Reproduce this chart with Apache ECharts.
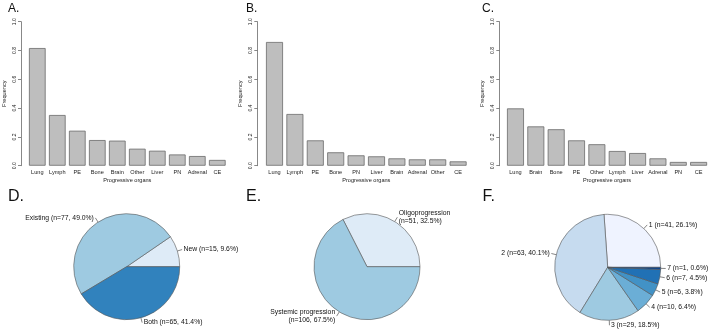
<!DOCTYPE html>
<html>
<head>
<meta charset="utf-8">
<script src="https://cdn.jsdelivr.net/npm/echarts@6/dist/echarts.min.js"></script>
<style>
  html, body { margin: 0; padding: 0; background: #fff; }
  #chart { width: 709px; height: 330px; }
</style>
</head>
<body>
<div id="chart"></div>
<script>
// bar panels: frequency of progressive organs
const organsA = ["Lung", "Lymph", "PE", "Bone", "Brain", "Other", "Liver", "PN", "Adrenal", "CE"];
const freqA = [0.817, 0.352, 0.243, 0.178, 0.174, 0.118, 0.104, 0.078, 0.067, 0.04];
const organsB = ["Lung", "Lymph", "PE", "Bone", "PN", "Liver", "Brain", "Adrenal", "Other", "CE"];
const freqB = [0.859, 0.359, 0.176, 0.093, 0.072, 0.065, 0.051, 0.044, 0.044, 0.03];
const organsC = ["Lung", "Brain", "Bone", "PE", "Other", "Lymph", "Liver", "Adrenal", "PN", "CE"];
const freqC = [0.398, 0.273, 0.253, 0.176, 0.149, 0.102, 0.088, 0.051, 0.026, 0.026];

// pie panels
const namesD = ["New", "Existing", "Both"];
const countsD = [15, 77, 65];
const namesE = ["Oligoprogression\n", "Systemic progression\n"];
const countsE = [51, 106];
const namesF = ["1 ", "2 ", "3 ", "4 ", "5 ", "6 ", "7 "];
const countsF = [41, 63, 29, 10, 6, 7, 1];

const colorsD = ["#deebf7", "#9ecae1", "#3182bd"];
const colorsE = ["#deebf7", "#9ecae1"];
const colorsF = ["#eff3ff", "#c6dbef", "#9ecae1", "#6baed6", "#4292c6", "#2171b5", "#084594"];

const FONT = "Liberation Sans";
const grids = [
  { left: 23.3, top: 21.7, width: 204, height: 144 },
  { left: 264.3, top: 21.7, width: 204, height: 144 },
  { left: 505.3, top: 21.7, width: 203.5, height: 144 },
];
const yOffsets = [6.3, 7, 6];
const barSets = [
  [organsA, freqA],
  [organsB, freqB],
  [organsC, freqC],
];

function pieData(names, counts, colors) {
  const total = counts.reduce((a, b) => a + b, 0);
  return names.map((n, i) => {
    const pct = ((counts[i] / total) * 100).toFixed(1);
    const sep = n.endsWith("\n") || n.endsWith(" ") ? "" : " ";
    return {
      name: n + sep + "(n=" + counts[i] + ", " + pct + "%)",
      value: counts[i],
      itemStyle: { color: colors[i] },
    };
  });
}

function pieSeries(center, data) {
  return {
    type: "pie",
    center: center,
    radius: 53,
    startAngle: 0,
    clockwise: false,
    avoidLabelOverlap: false,
    animation: false,
    itemStyle: { borderColor: "#555", borderWidth: 0.6 },
    label: {
      position: "outside",
      formatter: "{b}",
      color: "#111",
      fontSize: 6.8,
      fontFamily: FONT,
      distanceToLabelLine: 1.5,
      lineHeight: 8.5,
    },
    labelLine: { show: true, length: 5, length2: 0, lineStyle: { color: "#333", width: 0.6 } },
    emphasis: { disabled: true },
    data: data,
  };
}

const titles = [
  { text: "A.", left: 8, top: 2.5, size: 12 },
  { text: "B.", left: 246, top: 2.5, size: 12 },
  { text: "C.", left: 482, top: 2.5, size: 12 },
  { text: "D.", left: 8, top: 189, size: 16 },
  { text: "E.", left: 246, top: 189, size: 16 },
  { text: "F.", left: 482.5, top: 189, size: 16 },
].map((t) => ({
  text: t.text,
  left: t.left,
  top: t.top,
  padding: 0,
  textStyle: { fontFamily: FONT, fontWeight: "normal", fontSize: t.size, color: "#111" },
}));

const option = {
  backgroundColor: "#fff",
  animation: false,
  textStyle: { fontFamily: FONT },
  title: titles,
  grid: grids,
  xAxis: barSets.map((s, i) => ({
    type: "category",
    gridIndex: i,
    data: s[0],
    axisLine: { show: false },
    axisTick: { show: false },
    axisLabel: { fontSize: 5.6, color: "#222", margin: 3.5, interval: 0 },
    name: "Progressive organs",
    nameLocation: "middle",
    nameGap: 12,
    nameTextStyle: { fontSize: 5.6, color: "#222" },
  })),
  yAxis: barSets.map((s, i) => ({
    type: "value",
    gridIndex: i,
    min: 0,
    max: 1,
    interval: 0.2,
    offset: yOffsets[i],
    splitLine: { show: false },
    axisLine: { show: true, lineStyle: { color: "#555", width: 0.7 } },
    axisTick: { show: true, length: 3, lineStyle: { color: "#555", width: 0.7 } },
    axisLabel: {
      fontSize: 5,
      color: "#222",
      rotate: 90,
      margin: 4,
      formatter: (v) => v.toFixed(1),
    },
    name: "Frequency",
    nameLocation: "middle",
    nameGap: 14,
    nameRotate: 90,
    nameTextStyle: { fontSize: 5.6, color: "#222" },
  })),
  series: [
    ...barSets.map((s, i) => ({
      type: "bar",
      xAxisIndex: i,
      yAxisIndex: i,
      data: s[1],
      barCategoryGap: "16.7%",
      itemStyle: { color: "#bebebe", borderColor: "#6a6a6a", borderWidth: 0.8 },
      emphasis: { disabled: true },
    })),
    pieSeries([126.7, 266.7], pieData(namesD, countsD, colorsD)),
    pieSeries([367, 266.7], pieData(namesE, countsE, colorsE)),
    pieSeries([607.7, 267.3], pieData(namesF, countsF, colorsF)),
  ],
};

const chart = echarts.init(document.getElementById("chart"), null, { renderer: "canvas" });
chart.setOption(option);
</script>
</body>
</html>
